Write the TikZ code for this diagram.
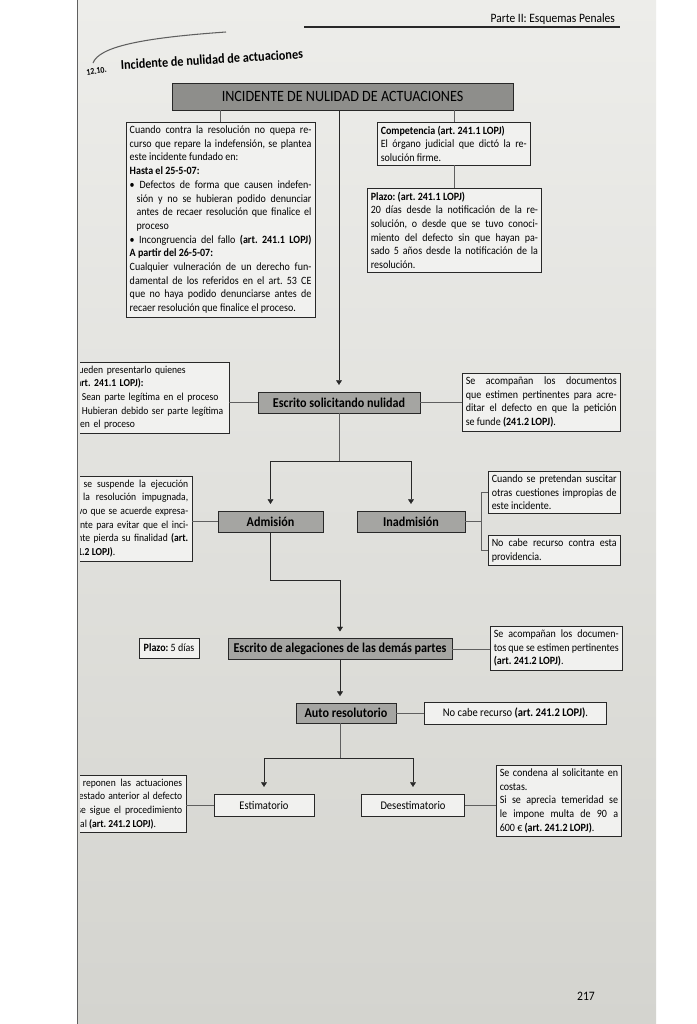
\documentclass[tikz,border=0pt]{standalone}
\usepackage{fontspec}
\setmainfont{Carlito}[FakeStretch=0.9]
\usetikzlibrary{arrows.meta,calc,positioning}
\definecolor{paperlight}{RGB}{237,237,234}
\definecolor{paperdark}{RGB}{212,212,207}
\definecolor{inkgrey}{RGB}{40,40,40}
\definecolor{rulegrey}{RGB}{95,95,95}
\definecolor{headgrey}{RGB}{142,142,139}
\definecolor{stepgrey}{RGB}{165,165,162}
\definecolor{notefill}{RGB}{241,241,239}
\newcommand{\notesize}{\fontsize{9.5}{11.7}\selectfont\frenchspacing}
\newcommand{\bul}{\textbullet\ }
\newcommand{\bulin}{\hspace*{0.62em}}
\tikzset{
  headbox/.style={draw=inkgrey,fill=headgrey,thin,minimum height=0.81cm,
    inner sep=2pt,font=\fontsize{13.4}{15}\selectfont},
  stepbox/.style={draw=inkgrey,fill=stepgrey,thin,minimum height=0.64cm,
    inner sep=2pt,font=\fontsize{11.5}{13}\selectfont\bfseries},
  resultbox/.style={draw=inkgrey,fill=notefill,thin,minimum height=0.67cm,
    inner sep=2pt,font=\fontsize{10}{12}\selectfont\frenchspacing},
  note/.style={draw=inkgrey,fill=notefill,thin,inner xsep=3pt,inner ysep=3pt,
    align=justify,font=\notesize},
  cutnote/.style={note,font=\fontsize{9.1}{11.7}\selectfont\frenchspacing},
  link/.style={draw=rulegrey,thin},
  flow/.style={-{Triangle[length=4pt,width=5pt]},draw=inkgrey,thin,
    shorten >=2mm}
}

\begin{document}
\begin{tikzpicture}[x=0.03cm,y=-0.03cm]
  \useasboundingbox (0,0) rectangle (697,1024);
  \fill[white] (0,0) rectangle (697,1024);
  \shade[top color=paperlight,bottom color=paperdark] (77,0) rectangle (656,1024);
  \draw[rulegrey,line width=0.8pt] (77,0) -- (77,1024);

  % running head and title
  \node[anchor=base east,font=\fontsize{10.9}{12}\selectfont] (runhead) at (619,22)
    {Parte II: Esquemas Penales};
  \draw[inkgrey,line width=0.9pt] (304,27) -- (620,27);
  \draw[rulegrey,line width=0.9pt] (93,63) .. controls (99,47) and (140,38) .. (226,32);
  \node[anchor=base west,rotate=3.5,font=\fontsize{11.6}{13}\selectfont\bfseries]
    (title) at (117,70) {Incidente de nulidad de actuaciones};

  \node[headbox,minimum width=10.23cm] (head) at (342.5,96.5)
    {INCIDENTE DE NULIDAD DE ACTUACIONES};

  \node[note,anchor=north west,text width=5.45cm] (grounds) at (126,122)
    {Cuando contra la resolución no quepa re-\linebreak
     curso que repare la indefensión, se plantea\linebreak
     este incidente fundado en:\newline
     \textbf{Hasta el 25-5-07:}\newline
     \bul Defectos de forma que causen indefen-\linebreak
     \bulin sión y no se hubieran podido denunciar\linebreak
     \bulin antes de recaer resolución que finalice el\linebreak
     \bulin proceso\newline
     \bul Incongruencia del fallo \textbf{(art. 241.1 LOPJ)}\linebreak
     \textbf{A partir del 26-5-07:}\newline
     Cualquier vulneración de un derecho fun-\linebreak
     damental de los referidos en el art. 53 CE\linebreak
     que no haya podido denunciarse antes de\linebreak
     recaer resolución que finalice el proceso.};
  \node[note,anchor=north west,text width=4.38cm] (court) at (377,122)
    {\textbf{Competencia (art. 241.1 LOPJ)}\newline
     El órgano judicial que dictó la re-\linebreak
     solución firme.};
  \node[note,anchor=north west,text width=5.02cm] (term) at (367,188)
    {\textbf{Plazo: (art. 241.1 LOPJ)}\newline
     20 días desde la notificación de la re-\linebreak
     solución, o desde que se tuvo conoci-\linebreak
     miento del defecto sin que hayan pa-\linebreak
     sado 5 años desde la notificación de la\linebreak
     resolución.};

  \node[stepbox,minimum width=4.86cm] (writ) at (339,402.5)
    {Escrito solicitando nulidad};
  \node[note,anchor=north west,text width=4.53cm] (evidence) at (462,373)
    {Se acompañan los documentos\linebreak
     que estimen pertinentes para acre-\linebreak
     ditar el defecto en que la petición\linebreak
     se funde \textbf{(241.2 LOPJ)}.};

  \node[stepbox,minimum width=3.15cm] (admit) at (270.5,521.5) {Admisión};
  \node[stepbox,minimum width=3.24cm] (reject) at (411,521.5) {Inadmisión};
  \node[note,anchor=north west,text width=3.75cm] (improper) at (488,471)
    {Cuando se pretendan suscitar\linebreak
     otras cuestiones impropias de\linebreak
     este incidente.};
  \node[note,anchor=north west,text width=3.75cm] (noappeal) at (488,535)
    {No cabe recurso contra esta\linebreak
     providencia.};

  \node[note,align=center,minimum width=1.8cm,minimum height=0.6cm] (fivedays)
    at (169,648) {\textbf{Plazo:} 5 días};
  \node[stepbox,minimum width=6.72cm] (pleas) at (340,649)
    {Escrito de alegaciones de las demás partes};
  \node[note,anchor=north west,text width=3.75cm] (docs) at (490,626)
    {Se acompañan los documen-\linebreak
     tos que se estimen pertinentes\linebreak
     \textbf{(art. 241.2 LOPJ)}.};

  \node[stepbox,minimum width=3cm,minimum height=0.6cm] (ruling) at (346,713)
    {Auto resolutorio};
  \node[resultbox,minimum width=5.46cm,right=0.84cm of ruling] (final)
    {No cabe recurso \textbf{(art. 241.2 LOPJ)}.};

  \node[resultbox,minimum width=3cm] (upheld) at (264,805) {Estimatorio};
  \node[resultbox,minimum width=3.1cm] (dismissed) at (413,805) {Desestimatorio};
  \node[note,anchor=north west,text width=3.55cm] (costs) at (496,765)
    {Se condena al solicitante en\linebreak
     costas.\newline
     Si se aprecia temeridad se\linebreak
     le impone multa de 90 a\linebreak
     600 € \textbf{(art. 241.2 LOPJ)}.};

  % boxes cut by the binding
  \begin{scope}
    \clip (80,0) rectangle (697,1024);
    \node[anchor=base east,rotate=8,font=\fontsize{7.5}{8}\selectfont\bfseries]
      (secno) at (111,72) {12.10.};
    \node[cutnote,align=left,anchor=north east,text width=4.55cm] (parties)
      at (229,362)
      {Pueden presentarlo quienes\newline
       \textbf{(art. 241.1 LOPJ):}\newline
       \bul Sean parte legítima en el proceso\newline
       \bul Hubieran debido ser parte legítima\newline
       \bulin en el proceso};
    \node[cutnote,anchor=north east,text width=3.62cm] (stay) at (192,476)
      {No se suspende la ejecución\linebreak
       de la resolución impugnada,\linebreak
       salvo que se acuerde expresa-\linebreak
       mente para evitar que el inci-\linebreak
       dente pierda su finalidad \textbf{(art.}\linebreak
       \textbf{241.2 LOPJ)}.};
    \node[cutnote,anchor=north east,text width=3.4cm] (restore) at (186,775)
      {Se reponen las actuaciones\linebreak
       al estado anterior al defecto\linebreak
       y se sigue el procedimiento\linebreak
       legal \textbf{(art. 241.2 LOPJ)}.};
  \end{scope}

  \draw[link] (grounds.north |- head.south) -- (grounds.north);
  \draw[link] (court.north |- head.south) -- (court.north);
  \draw[link] (court.south) -- (court.south |- term.north);
  \draw[flow] (writ.north |- head.south) -- (writ.north);
  \draw[link] (writ.west -| parties.east) -- (writ.west);
  \draw[link] (writ.east) -- (writ.east -| evidence.west);

  \coordinate (fork1) at ($(writ.south)+(0,48)$);
  \draw[link] (writ.south) -- (fork1);
  \draw[flow] (fork1) -| (admit.north);
  \draw[flow] (fork1) -| (reject.north);
  \draw[link] (admit.west -| stay.east) -- (admit.west);
  \coordinate (fork2) at ($(reject.east)+(16,0)$);
  \draw[link] (reject.east) -- (fork2);
  \draw[link] (fork2) |- (improper.west);
  \draw[link] (fork2) |- (noappeal.west);

  \draw[flow] (admit.south) -- ++(0,48) -| (pleas.north);
  \draw[link] (pleas.east) -- (pleas.east -| docs.west);
  \draw[flow] (pleas.south) -- (pleas.south |- ruling.north);
  \draw[link] (ruling.east) -- (final.west);

  \coordinate (fork3) at ($(pleas.south |- ruling.south)+(0,35)$);
  \draw[link] (pleas.south |- ruling.south) -- (fork3);
  \draw[flow] (fork3) -| (upheld.north);
  \draw[flow] (fork3) -| (dismissed.north);
  \draw[link] (upheld.west -| restore.east) -- (upheld.west);
  \draw[link] (dismissed.east) -- (dismissed.east -| costs.west);

  \node[font=\fontsize{11}{12}\selectfont] (pageno) at (586,996) {217};
\end{tikzpicture}
\end{document}
